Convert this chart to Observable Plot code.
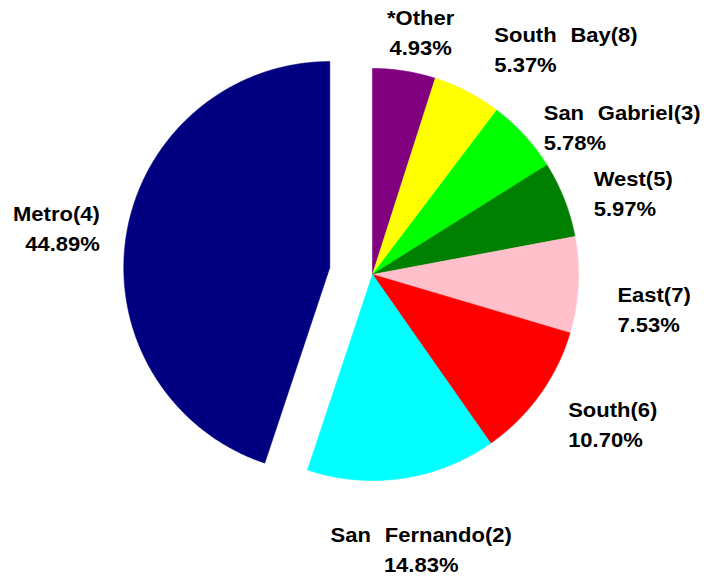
<!DOCTYPE html>
<html>
<head>
<meta charset="utf-8">
<script src="https://cdn.jsdelivr.net/npm/d3@7"></script>
<script src="https://cdn.jsdelivr.net/npm/@observablehq/plot@0.6"></script>
<style>
  html, body { margin: 0; padding: 0; background: #ffffff; }
  #chart svg text { word-spacing: 7px; }
</style>
</head>
<body>
<div id="chart"></div>
<script>
// ---- Data ----
const regions = ["*Other", "South Bay(8)", "San Gabriel(3)", "West(5)", "East(7)", "South(6)", "San Fernando(2)", "Metro(4)"];
const shares  = [4.93, 5.37, 5.78, 5.97, 7.53, 10.70, 14.83, 44.89];
const colors  = ["#800080", "#FFFF00", "#00FF00", "#008000", "#FFC0CB", "#FF0000", "#00FFFF", "#000080"];
const explodedRegions = ["Metro(4)"];

// ---- Layout ----
const W = 704, H = 579;
const CX = 372, CY = 274, R = 206;        // pie centre and radius in pixels
const EXPLODE = 0.21;                      // explode distance (in radii)
const LABEL_R = 1.2;                       // label anchor radius (in radii)
// fine nudges (pixels) for each label, same order as regions
const labelDx = [10, 8, -11, -9, -2, -5, 13, 14];
const labelDy = [0, -8, 18, 7, 20, 3, 28, -2];

const rows = regions.map((name, i) => ({name, share: shares[i], color: colors[i]}));
const arcs = d3.pie().sort(null).value(d => d.share)(rows);

// polygon vertices for each slice in "radius" units (y up)
const step = Math.PI / 360;
const polyPoints = [];
const labels = [];
arcs.forEach((a, i) => {
  const mid = (a.startAngle + a.endAngle) / 2;
  const off = explodedRegions.includes(a.data.name) ? EXPLODE : 0;
  const ox = off * Math.sin(mid), oy = off * Math.cos(mid);
  polyPoints.push({name: a.data.name, x: ox, y: oy});
  const n = Math.max(2, Math.ceil((a.endAngle - a.startAngle) / step));
  for (let k = 0; k <= n; k++) {
    const t = a.startAngle + (a.endAngle - a.startAngle) * k / n;
    polyPoints.push({name: a.data.name, x: ox + Math.sin(t), y: oy + Math.cos(t)});
  }
  polyPoints.push({name: a.data.name, x: ox, y: oy});
  const s = Math.sin(mid);
  labels.push({
    name: a.data.name,
    text: `${a.data.name}\n${a.data.share.toFixed(2)}%`,
    x: ox + LABEL_R * Math.sin(mid),
    y: oy + LABEL_R * Math.cos(mid),
    anchor: s > 0.3 ? "start" : s < -0.3 ? "end" : "middle",
    dx: labelDx[i], dy: labelDy[i]
  });
});

const labelMarks = labels.map(l => Plot.text([l], {
  x: "x", y: "y", text: "text",
  textAnchor: l.anchor, lineAnchor: "middle", lineHeight: 1.5,
  dx: l.dx, dy: l.dy,
  fontSize: 20, fontWeight: "bold",
  fontFamily: "'Liberation Sans', Arial, Helvetica, sans-serif",
  fill: "#000000"
}));

const svg = Plot.plot({
  width: W, height: H,
  margin: 0,
  style: {background: "#ffffff", overflow: "visible"},
  x: {domain: [-CX / R, (W - CX) / R], axis: null},
  y: {domain: [-(H - CY) / R, CY / R], axis: null},
  color: {type: "ordinal", domain: regions, range: colors},
  marks: [
    Plot.line(polyPoints, {x: "x", y: "y", z: "name", fill: "name", stroke: "name", strokeWidth: 0.6, curve: "linear"}),
    ...labelMarks
  ]
});

// slightly widen the label glyphs, as in the reference
d3.select(svg).selectAll("text").each(function () {
  const t = this.getAttribute("transform") || "";
  this.setAttribute("transform", t + " scale(1.1,1)");
});

document.getElementById("chart").appendChild(svg);
</script>
</body>
</html>
